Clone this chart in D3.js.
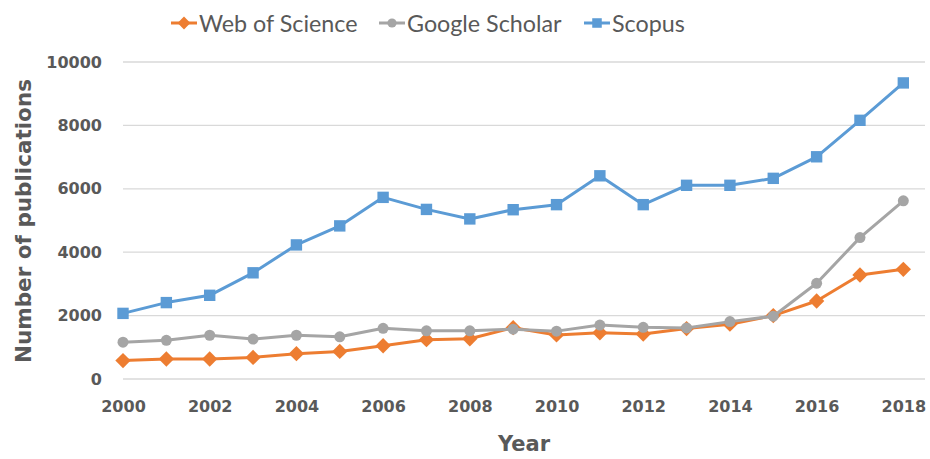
<!DOCTYPE html>
<html>
<head>
<meta charset="utf-8">
<script src="https://cdn.jsdelivr.net/npm/d3@7/dist/d3.min.js"></script>
<style>
  html, body { margin: 0; padding: 0; background: #fff; }
  svg { display: block; }
  text { fill: #595959; }
</style>
</head>
<body>
<svg id="chart" width="930" height="459"></svg>
<script>
// data
const years = d3.range(2000, 2019);
const webOfScience = [580, 630, 630, 680, 800, 870, 1050, 1240, 1270, 1620, 1390, 1460, 1420, 1590, 1730, 2000, 2460, 3280, 3460];
const googleScholar = [1160, 1220, 1380, 1260, 1380, 1330, 1600, 1520, 1520, 1570, 1510, 1700, 1630, 1610, 1810, 1980, 3020, 4460, 5620];
const scopus = [2070, 2410, 2640, 3350, 4230, 4830, 5730, 5350, 5050, 5340, 5500, 6410, 5500, 6110, 6110, 6330, 7010, 8160, 9340];
const yTicks = [0, 2000, 4000, 6000, 8000, 10000];
const xTicks = d3.range(2000, 2019, 2);

const series = [
  { name: "Web of Science", values: webOfScience, color: "#ED7D31", marker: d3.symbolDiamond2, size: 150 },
  { name: "Google Scholar", values: googleScholar, color: "#A5A5A5", marker: d3.symbolCircle, size: 95 },
  { name: "Scopus", values: scopus, color: "#5B9BD5", marker: d3.symbolSquare, size: 130 }
];

const svg = d3.select("#chart");

const x = d3.scaleLinear().domain([2000, 2018.5]).range([123, 925]);
const y = d3.scaleLinear().domain([0, 10000]).range([379, 62]);

// gridlines
svg.append("g")
  .attr("class", "grid")
  .selectAll("line")
  .data(yTicks)
  .join("line")
  .attr("x1", x.range()[0])
  .attr("x2", x.range()[1])
  .attr("y1", (d) => y(d))
  .attr("y2", (d) => y(d))
  .attr("stroke", "#d9d9d9")
  .attr("stroke-width", 1.3);

// y axis labels
const yAxis = d3.axisLeft(y).tickValues(yTicks).tickFormat(d3.format("d")).tickSize(0).tickPadding(21);
svg.append("g")
  .attr("transform", `translate(${x.range()[0]},0)`)
  .call(yAxis)
  .call((g) => g.select(".domain").remove())
  .selectAll("text")
  .attr("font-family", "'DejaVu Sans', sans-serif")
  .attr("font-weight", "bold")
  .attr("font-size", 16)
  .attr("fill", "#595959");

// x axis labels
const xAxis = d3.axisBottom(x).tickValues(xTicks).tickFormat(d3.format("d")).tickSize(0).tickPadding(22);
svg.append("g")
  .attr("transform", `translate(0,${y(0)})`)
  .call(xAxis)
  .call((g) => g.select(".domain").remove())
  .selectAll("text")
  .attr("font-family", "'DejaVu Sans', sans-serif")
  .attr("font-weight", "bold")
  .attr("font-size", 16)
  .attr("fill", "#595959");

// axis titles
svg.append("text")
  .attr("x", 524)
  .attr("y", 451)
  .attr("text-anchor", "middle")
  .attr("font-family", "'DejaVu Sans', sans-serif")
  .attr("font-weight", "bold")
  .attr("font-size", 21)
  .text("Year");

svg.append("text")
  .attr("transform", "translate(31,221) rotate(-90)")
  .attr("text-anchor", "middle")
  .attr("font-family", "'DejaVu Sans', sans-serif")
  .attr("font-weight", "bold")
  .attr("font-size", 21.5)
  .text("Number of publications");

// lines + markers
const line = d3.line()
  .x((d, i) => x(years[i]))
  .y((d) => y(d));

const seriesG = svg.append("g").attr("class", "series");

series.forEach((s) => {
  const g = seriesG.append("g");
  g.append("path")
    .datum(s.values)
    .attr("fill", "none")
    .attr("stroke", s.color)
    .attr("stroke-width", 3)
    .attr("stroke-linejoin", "round")
    .attr("d", line);
  g.selectAll("path.marker")
    .data(s.values)
    .join("path")
    .attr("class", "marker")
    .attr("transform", (d, i) => `translate(${x(years[i])},${y(d)})`)
    .attr("d", d3.symbol().type(s.marker).size(s.size))
    .attr("fill", s.color);
});

// legend
const legendX = [184, 392, 597];
const legend = svg.append("g").attr("class", "legend");
series.forEach((s, i) => {
  const item = legend.append("g").attr("transform", `translate(${legendX[i]},23)`);
  item.append("line")
    .attr("x1", -13)
    .attr("x2", 13)
    .attr("stroke", s.color)
    .attr("stroke-width", 3);
  item.append("path")
    .attr("d", d3.symbol().type(s.marker).size(s.size * 0.7))
    .attr("fill", s.color);
  item.append("text")
    .attr("x", 15)
    .attr("y", 9)
    .attr("font-family", "Lato, sans-serif")
    .attr("font-size", 23.3)
    .text(s.name);
});
</script>
</body>
</html>
